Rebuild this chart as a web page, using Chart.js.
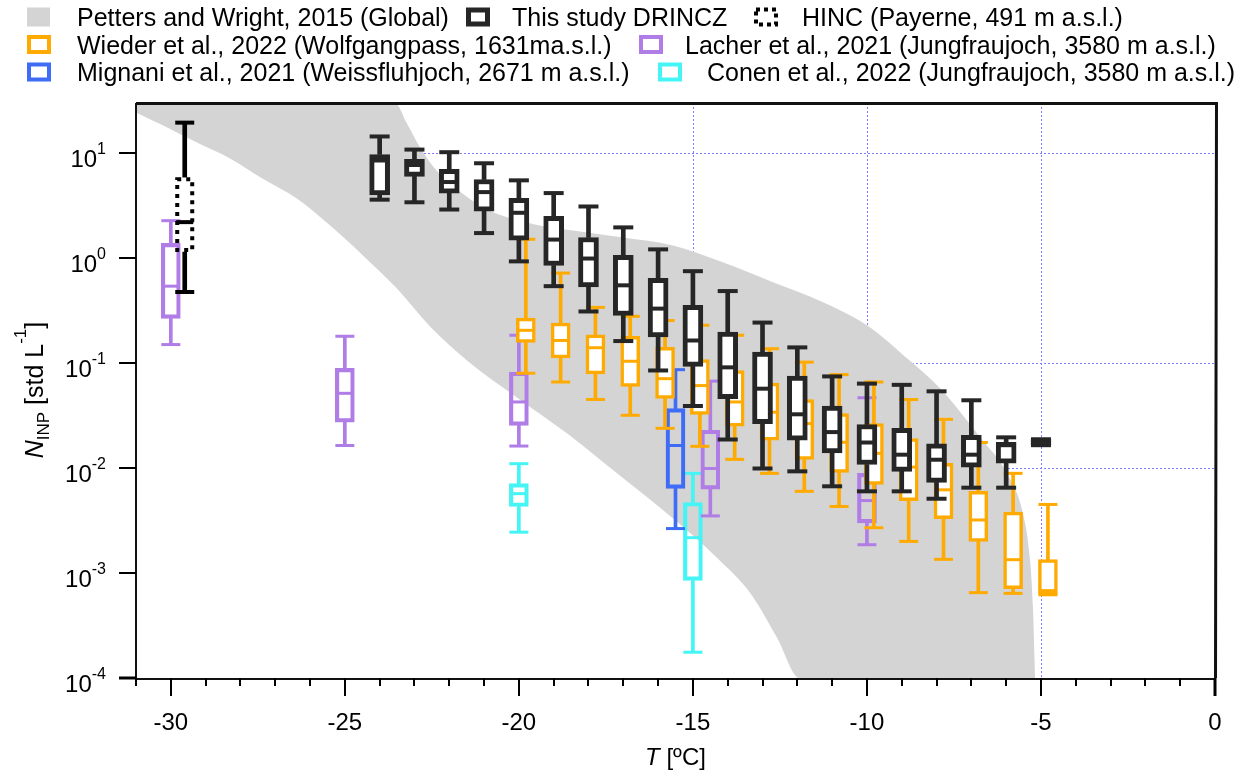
<!DOCTYPE html>
<html>
<head>
<meta charset="utf-8">
<script src="https://cdn.jsdelivr.net/npm/chart.js@4.4.0/dist/chart.umd.min.js"></script>
<style>
  html, body { margin: 0; padding: 0; background: #fff; }
  #wrap { width: 1255px; height: 777px; }
</style>
</head>
<body>
<div id="wrap"><canvas id="chart" width="1255" height="777"></canvas></div>
<script>
// Box statistics per temperature: [min, q1, median, q3, max] in std L-1

// This study, DRINCZ
var drinczT = [-24, -23, -22, -21, -20, -19, -18, -17, -16, -15, -14, -13, -12, -11, -10, -9, -8, -7, -6, -5];
var drinczStats = [
  [3.6, 4.0, 8.5, 9.7, 14.4],
  [3.4, 6.0, 7.7, 8.7, 10.8],
  [2.9, 4.16, 5.3, 7.0, 10.2],
  [1.73, 2.8, 4.25, 5.6, 8.0],
  [0.93, 1.48, 2.7, 3.7, 5.5],
  [0.54, 0.85, 1.5, 2.5, 4.16],
  [0.31, 0.53, 0.99, 1.57, 3.1],
  [0.162, 0.284, 0.55, 1.06, 1.96],
  [0.085, 0.177, 0.33, 0.64, 1.21],
  [0.039, 0.093, 0.164, 0.355, 0.75],
  [0.0187, 0.0458, 0.091, 0.197, 0.485],
  [0.0099, 0.0265, 0.057, 0.127, 0.243],
  [0.0093, 0.0184, 0.0325, 0.075, 0.141],
  [0.0067, 0.0139, 0.022, 0.0389, 0.0746],
  [0.006, 0.0108, 0.0175, 0.026, 0.0637],
  [0.006, 0.0093, 0.0134, 0.0239, 0.062],
  [0.0051, 0.0073, 0.012, 0.017, 0.0538],
  [0.0065, 0.0102, 0.0134, 0.0205, 0.0442],
  [0.0065, 0.0111, 0.0165, 0.0176, 0.0196],
  [0.0165, 0.0165, 0.0175, 0.0188, 0.0188]
];

// HINC, Payerne
var hincT = [-29.6];
var hincStats = [[0.475, 1.14, 2.2, 5.9, 19.5]];

// Wieder et al. 2022, Wolfgangpass
var wiederT = [-19.8, -18.8, -17.8, -16.8, -15.8, -14.8, -13.8, -12.8, -11.8, -10.8, -9.8, -8.8, -7.8, -6.8, -5.8, -4.8];
var wiederStats = [
  [0.080, 0.157, 0.205, 0.268, 1.51],
  [0.066, 0.112, 0.164, 0.24, 0.72],
  [0.045, 0.079, 0.14, 0.186, 0.339],
  [0.0318, 0.06, 0.104, 0.18, 0.279],
  [0.0239, 0.046, 0.071, 0.141, 0.254],
  [0.0161, 0.0325, 0.061, 0.108, 0.229],
  [0.0121, 0.0251, 0.0426, 0.085, 0.184],
  [0.0089, 0.0184, 0.034, 0.0645, 0.137],
  [0.006, 0.0121, 0.0265, 0.0449, 0.102],
  [0.0043, 0.0091, 0.0176, 0.033, 0.0776],
  [0.0027, 0.007, 0.0138, 0.0265, 0.066],
  [0.002, 0.0049, 0.0102, 0.0191, 0.0449],
  [0.00135, 0.0033, 0.0062, 0.0111, 0.0291],
  [0.00065, 0.002, 0.0032, 0.006, 0.0175],
  [0.00064, 0.00071, 0.00134, 0.0038, 0.0089],
  [0.00062, 0.00063, 0.00068, 0.00134, 0.0045]
];

// Lacher et al. 2021, Jungfraujoch
var lacherT = [-30, -25, -20, -14.5, -10];
var lacherStats = [
  [0.15, 0.266, 0.54, 1.38, 2.27],
  [0.0164, 0.0274, 0.0515, 0.089, 0.18],
  [0.0162, 0.0255, 0.0426, 0.082, 0.184],
  [0.0035, 0.0063, 0.0099, 0.0229, 0.0673],
  [0.00186, 0.003, 0.0049, 0.0089, 0.0467]
];

// Mignani et al. 2021, Weissfluhjoch
var mignaniT = [-15.5];
var mignaniStats = [[0.00265, 0.0064, 0.0164, 0.0368, 0.0865]];

// Conen et al. 2022, Jungfraujoch
var conenT = [-20, -15];
var conenStats = [
  [0.00245, 0.0043, 0.0057, 0.0071, 0.011],
  [0.000176, 0.00085, 0.00217, 0.0047, 0.0089]
];

// Petters and Wright 2015 global envelope (upper and lower edge)
var upperT = [-31, -23.56, -23.22, -22.84, -22.36, -21.61, -20.83, -19.97, -19.11, -18.45, -17.01, -15.57, -14.14, -12.7, -11.26, -10.0, -8.85, -7.9, -6.75, -5.98, -5.52, -5.32, -5.23, -5.17];
var upperN = [30, 30, 19.2, 11.3, 6.8, 4.1, 2.83, 2.27, 1.95, 1.83, 1.57, 1.32, 0.91, 0.59, 0.38, 0.229, 0.111, 0.0574, 0.0196, 0.0089, 0.0037, 0.0014, 0.00047, 0.0001];
var lowerT = [-31, -30.23, -29.25, -28.3, -27.36, -26.38, -25.43, -24.48, -23.51, -22.56, -21.49, -20.06, -18.62, -17.18, -15.75, -14.31, -13.36, -12.59, -11.93, -5.17];
var lowerN = [24.4, 18.4, 12.6, 8.9, 5.7, 3.7, 2.05, 1.06, 0.515, 0.224, 0.106, 0.047, 0.0214, 0.0089, 0.0037, 0.0014, 0.00065, 0.000245, 0.0001, 0.0001];

// axes
var xTickLabels = [-30, -25, -20, -15, -10, -5, 0];
var yTickExponents = [-4, -3, -2, -1, 0, 1];
var gridT = [-15, -10, -5];
var gridN = [10, 0.1, 0.01];

var FONT = "'Liberation Sans', Arial, sans-serif";
var GRAY = '#d4d4d4';

function pairs(xs, ys) {
  return xs.map(function (x, i) { return { x: x, y: ys[i] }; });
}

// one box plot series -> whisker bars, caps, boxes and median marks
function boxDatasets(name, temps, stats, st) {
  var whiskers = [], caps = [], boxes = [], medians = [];
  temps.forEach(function (t, i) {
    var s = stats[i];
    whiskers.push({ x: t, y: [s[0], s[1]] });
    whiskers.push({ x: t, y: [s[3], s[4]] });
    caps.push({ x: t, y: s[0] });
    caps.push({ x: t, y: s[4] });
    boxes.push({ x: t, y: [s[1], s[3]] });
    medians.push({ x: t, y: s[2] });
  });
  return [
    { type: 'bar', label: name + ' whiskers', data: whiskers, backgroundColor: st.color,
      borderWidth: 0, barThickness: st.whisker, grouped: false, order: st.order + 3 },
    { type: 'scatter', label: name + ' caps', data: caps, showLine: false, pointStyle: 'line',
      pointRadius: st.width / 2, pointBorderWidth: st.whisker, pointBorderColor: st.color, order: st.order + 2 },
    { type: 'bar', label: name + ' box', data: boxes, backgroundColor: st.fill, borderColor: st.color,
      borderWidth: st.border, borderSkipped: false, barThickness: st.width, grouped: false, order: st.order + 1 },
    { type: 'scatter', label: name + ' median', data: medians, showLine: false, pointStyle: 'line',
      pointRadius: st.width / 2 - 1, pointBorderWidth: st.whisker, pointBorderColor: st.color, order: st.order }
  ];
}

var datasets = [
  { type: 'line', label: 'Petters and Wright, 2015 (Global)', data: pairs(upperT, upperN), fill: '+1',
    backgroundColor: GRAY, borderColor: 'rgba(0,0,0,0)', borderWidth: 0, pointRadius: 0,
    cubicInterpolationMode: 'monotone', showLine: true, order: 1000 },
  { type: 'line', label: 'Petters lower', data: pairs(lowerT, lowerN), fill: false,
    borderColor: 'rgba(0,0,0,0)', borderWidth: 0, pointRadius: 0,
    cubicInterpolationMode: 'monotone', showLine: true, order: 999 }
]
  .concat(boxDatasets('Conen', conenT, conenStats, { color: '#45F4F4', fill: 'rgba(0,0,0,0)', width: 19, border: 3.5, whisker: 3, order: 320 }))
  .concat(boxDatasets('Mignani', mignaniT, mignaniStats, { color: '#3F6CF6', fill: 'rgba(0,0,0,0)', width: 19, border: 3.5, whisker: 3, order: 310 }))
  .concat(boxDatasets('Lacher', lacherT, lacherStats, { color: '#B07CE6', fill: 'rgba(0,0,0,0)', width: 19, border: 3.5, whisker: 3, order: 300 }))
  .concat(boxDatasets('Wieder', wiederT, wiederStats, { color: '#FFAA00', fill: '#ffffff', width: 19, border: 3.5, whisker: 3, order: 200 }))
  .concat(boxDatasets('DRINCZ', drinczT, drinczStats, { color: '#262626', fill: '#ffffff', width: 20, border: 5, whisker: 4, order: 100 }))
  .concat(boxDatasets('HINC', hincT, hincStats, { color: '#000000', fill: 'rgba(0,0,0,0)', width: 19, border: 0, whisker: 4, order: 50 }));

function metaByLabel(chart, label) {
  for (var i = 0; i < chart.data.datasets.length; i++) {
    if (chart.data.datasets[i].label === label) return chart.getDatasetMeta(i);
  }
  return null;
}

// draws "10" with a raised exponent, right aligned at x
function powerLabel(ctx, x, y, exp) {
  var sup = String(exp);
  ctx.font = '24px ' + FONT;
  var wBase = ctx.measureText('10').width;
  ctx.font = '16px ' + FONT;
  var wSup = ctx.measureText(sup).width;
  var left = x - wBase - wSup;
  ctx.textAlign = 'left';
  ctx.font = '24px ' + FONT;
  ctx.fillText('10', left, y + 13.5);
  ctx.font = '16px ' + FONT;
  ctx.fillText(sup, left + wBase, y + 0.5);
}

// draws a list of [text, font, dy] runs starting at x
function drawRuns(ctx, runs, x, y) {
  runs.forEach(function (r) {
    ctx.font = r[1];
    ctx.fillText(r[0], x, y + r[2]);
    x += ctx.measureText(r[0]).width;
  });
}
function runsWidth(ctx, runs) {
  var w = 0;
  runs.forEach(function (r) { ctx.font = r[1]; w += ctx.measureText(r[0]).width; });
  return w;
}

var decorations = {
  id: 'decorations',
  beforeDatasetsDraw: function (chart) {
    // dotted grid, only in the open area above the global envelope
    var ctx = chart.ctx, a = chart.chartArea, xs = chart.scales.x, ys = chart.scales.y;
    var upper = chart.getDatasetMeta(0).dataset;
    ctx.save();
    ctx.beginPath();
    upper.path(ctx);
    ctx.lineTo(a.right, a.bottom);
    ctx.lineTo(a.right, a.top);
    ctx.closePath();
    ctx.clip();
    ctx.strokeStyle = '#7c7cff';
    ctx.lineWidth = 1;
    ctx.setLineDash([2, 2]);
    ctx.beginPath();
    gridT.forEach(function (t) {
      var x = Math.round(xs.getPixelForValue(t)) + 0.5;
      ctx.moveTo(x, a.top); ctx.lineTo(x, a.bottom);
    });
    gridN.forEach(function (n) {
      var y = Math.round(ys.getPixelForValue(n)) + 0.5;
      ctx.moveTo(a.left, y); ctx.lineTo(a.right, y);
    });
    ctx.stroke();
    ctx.restore();
  },
  afterDatasetsDraw: function (chart) {
    var ctx = chart.ctx, a = chart.chartArea, xs = chart.scales.x, ys = chart.scales.y;
    ctx.save();

    // HINC box outline is dotted
    var hinc = metaByLabel(chart, 'HINC box');
    ctx.strokeStyle = '#000';
    ctx.lineWidth = 4;
    ctx.setLineDash([4, 5]);
    hinc.data.forEach(function (bar) {
      var p = bar.getProps(['x', 'y', 'base', 'width'], true);
      var top = Math.min(p.y, p.base), bottom = Math.max(p.y, p.base);
      ctx.strokeRect(p.x - p.width / 2 + 2, top + 2, p.width - 4, bottom - top - 4);
    });
    ctx.setLineDash([]);

    // frame and axes
    ctx.strokeStyle = '#111';
    ctx.lineWidth = 3;
    ctx.beginPath();
    ctx.moveTo(a.left, a.top + 0.5); ctx.lineTo(a.right + 1.5, a.top + 0.5);
    ctx.lineTo(a.right + 0.5, a.bottom);
    ctx.stroke();
    ctx.lineWidth = 2;
    ctx.beginPath();
    ctx.moveTo(a.left, a.top); ctx.lineTo(a.left, a.bottom + 1);
    ctx.lineTo(a.right, a.bottom + 1);
    ctx.stroke();

    // x ticks: minor every degree, major every 5
    ctx.strokeStyle = '#000';
    for (var t = -31; t <= 0; t++) {
      var x = Math.round(xs.getPixelForValue(t));
      ctx.lineWidth = t === 0 ? 3 : 2;
      ctx.beginPath();
      ctx.moveTo(x, a.bottom);
      ctx.lineTo(x, a.bottom + (t % 5 === 0 ? 18 : 8));
      ctx.stroke();
    }
    ctx.fillStyle = '#000';
    ctx.font = '24px ' + FONT;
    ctx.textAlign = 'center';
    ctx.textBaseline = 'alphabetic';
    xTickLabels.forEach(function (t) {
      ctx.fillText(String(t), xs.getPixelForValue(t), 730);
    });

    // y ticks at each decade
    yTickExponents.forEach(function (e) {
      var y = Math.round(ys.getPixelForValue(Math.pow(10, e)));
      ctx.lineWidth = e === -4 ? 3 : 2;
      ctx.beginPath();
      ctx.moveTo(a.left - 17, y);
      ctx.lineTo(a.left, y);
      ctx.stroke();
      powerLabel(ctx, 106, y, e);
    });

    // x title
    var xRuns = [['T', 'italic 24px ' + FONT, 0], [' [\u00baC]', '24px ' + FONT, 0]];
    ctx.textAlign = 'left';
    drawRuns(ctx, xRuns, (a.left + a.right) / 2 - runsWidth(ctx, xRuns) / 2, 765);

    // y title, rotated
    var yRuns = [
      ['N', 'italic 25px ' + FONT, 0],
      ['INP', '17px ' + FONT, 6],
      [' [std L', '25px ' + FONT, 0],
      ['-1', '17px ' + FONT, -17],
      [']', '25px ' + FONT, 0]
    ];
    ctx.save();
    ctx.translate(43, 390);
    ctx.rotate(-Math.PI / 2);
    drawRuns(ctx, yRuns, -runsWidth(ctx, yRuns) / 2, 0);
    ctx.restore();

    // legend
    ctx.font = '25px ' + FONT;
    var rows = [17, 44.5, 72];
    function outlined(x, row, color, lw) {
      ctx.strokeStyle = color;
      ctx.lineWidth = lw;
      ctx.strokeRect(x + lw / 2, rows[row] - 9.5 + lw / 2, 24 - lw, 19 - lw);
    }
    ctx.fillStyle = GRAY;
    ctx.fillRect(27, rows[0] - 9.5, 23, 19);
    outlined(466, 0, '#262626', 5);
    ctx.setLineDash([4, 4]);
    outlined(754, 0, '#000', 4);
    ctx.setLineDash([]);
    outlined(27, 1, '#FFAA00', 4);
    outlined(639, 1, '#B07CE6', 4);
    outlined(27, 2, '#3F6CF6', 4);
    outlined(658, 2, '#45F4F4', 4);

    ctx.fillStyle = '#000';
    ctx.font = '25px ' + FONT;
    ctx.fillText('Petters and Wright, 2015 (Global)', 77, rows[0] + 9);
    ctx.fillText('This study DRINCZ', 512, rows[0] + 9);
    ctx.fillText('HINC (Payerne, 491 m a.s.l.)', 802, rows[0] + 9);
    ctx.fillText('Wieder et al., 2022 (Wolfgangpass, 1631ma.s.l.)', 77, rows[1] + 9);
    ctx.fillText('Lacher et al., 2021 (Jungfraujoch, 3580 m a.s.l.)', 685, rows[1] + 9);
    ctx.fillText('Mignani et al., 2021 (Weissfluhjoch, 2671 m a.s.l.)', 77, rows[2] + 9);
    ctx.fillText('Conen et al., 2022 (Jungfraujoch, 3580 m a.s.l.)', 707, rows[2] + 9);

    ctx.restore();
  }
};

new Chart(document.getElementById('chart'), {
  type: 'scatter',
  data: { datasets: datasets },
  options: {
    responsive: false,
    animation: false,
    events: [],
    layout: { padding: { left: 136, right: 40, top: 103, bottom: 99 } },
    scales: {
      x: { type: 'linear', min: -31, max: 0, offset: false, display: false },
      y: { type: 'logarithmic', min: 0.0001, max: 30, display: false }
    },
    plugins: {
      legend: { display: false },
      tooltip: { enabled: false }
    }
  },
  plugins: [decorations]
});
</script>
</body>
</html>
